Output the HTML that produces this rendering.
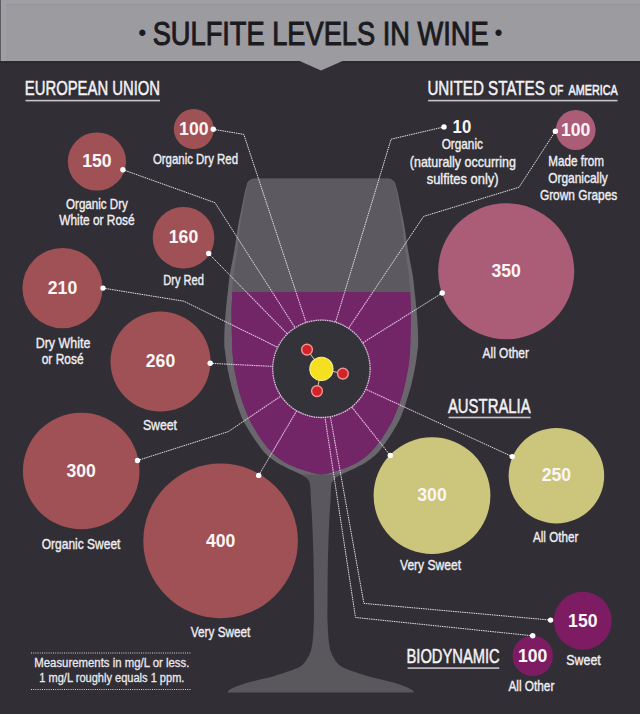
<!DOCTYPE html>
<html><head><meta charset="utf-8"><title>Sulfite Levels in Wine</title>
<style>
html,body{margin:0;padding:0;background:#312f35;}
body{width:640px;height:714px;overflow:hidden;}
svg{display:block;font-family:"Liberation Sans",sans-serif;}
</style></head><body>
<svg width="640" height="714" viewBox="0 0 640 714">
<rect x="0" y="0" width="640" height="714" fill="#312f35"/>
<rect x="0" y="0" width="640" height="61.3" fill="#9c9ba0"/>
<rect x="0" y="0" width="640" height="4.3" fill="#a09fa4"/>
<rect x="0" y="4.3" width="640" height="0.9" fill="#929196"/>
<rect x="0" y="0" width="6" height="61.3" fill="#a09fa4"/>
<rect x="0" y="0" width="0.9" height="61.3" fill="#55535a"/>
<rect x="0" y="61.2" width="640" height="1.2" fill="#232126"/>
<path d="M299.6,61 L342.6,61 L321,70.6Z" fill="#9c9ba0"/>
<path d="M253.9,178.6 L253.0,178.7 L252.1,178.9 L251.2,179.2 L250.4,179.7 L249.6,180.2 L248.8,180.9 L248.2,181.6 L247.6,182.4 L247.2,183.2 L246.9,184.1 L246.7,185.3 L246.4,186.5 L246.0,187.6 L245.6,188.8 L245.3,190.0 L245.1,191.0 L244.8,192.0 L244.6,193.0 L244.4,194.0 L244.2,195.0 L244.0,196.0 L243.8,197.0 L243.6,198.0 L243.4,199.0 L243.2,200.0 L243.0,201.0 L242.8,202.0 L242.6,203.0 L242.4,204.0 L242.2,205.0 L242.0,206.0 L241.8,207.0 L241.6,208.0 L241.4,209.0 L241.2,210.0 L241.0,211.0 L240.8,212.0 L240.6,213.0 L240.4,214.0 L240.2,215.0 L240.0,216.0 L239.7,217.0 L239.5,218.0 L239.3,219.0 L239.1,220.0 L238.9,221.0 L238.7,222.0 L238.6,223.0 L238.4,224.0 L238.2,225.0 L238.0,226.0 L237.9,227.0 L237.7,228.0 L237.5,229.0 L237.4,230.0 L237.2,231.0 L237.1,232.0 L236.9,233.0 L236.8,234.0 L236.6,235.0 L236.5,236.0 L236.4,237.0 L236.2,238.0 L236.1,239.0 L235.9,240.0 L235.8,241.0 L235.6,242.0 L235.5,243.0 L235.3,244.0 L235.2,245.0 L235.0,246.0 L234.9,247.0 L234.7,248.0 L234.6,249.0 L234.4,250.0 L234.2,251.0 L234.1,252.0 L233.9,253.0 L233.7,254.0 L233.5,255.0 L233.3,256.0 L233.1,257.0 L232.9,258.0 L232.8,259.0 L232.6,260.0 L232.4,261.0 L232.2,262.0 L232.0,263.0 L231.8,264.0 L231.6,265.0 L231.4,266.0 L231.2,267.0 L231.0,268.0 L230.8,269.0 L230.6,270.0 L230.4,271.0 L230.2,272.0 L230.0,273.0 L229.9,274.0 L229.7,275.0 L229.6,276.0 L229.4,277.0 L229.3,278.0 L229.2,279.0 L229.1,280.0 L228.9,281.0 L228.8,282.0 L228.7,283.0 L228.6,284.0 L228.5,285.0 L228.4,286.0 L228.3,287.0 L228.2,288.0 L228.1,289.0 L228.0,290.0 L227.9,291.0 L227.8,292.0 L227.7,293.0 L227.6,294.0 L227.4,295.0 L227.3,296.0 L227.2,297.0 L227.1,298.0 L227.0,299.0 L226.9,300.0 L226.8,301.0 L226.7,302.0 L226.6,303.0 L226.5,304.0 L226.4,305.0 L226.3,306.0 L226.2,307.0 L226.1,308.0 L226.0,309.0 L225.9,310.0 L225.8,311.0 L225.7,312.0 L225.6,313.0 L225.6,314.0 L225.5,315.0 L225.4,316.0 L225.3,317.0 L225.2,318.0 L225.2,319.0 L225.1,320.0 L225.0,321.0 L225.0,322.0 L224.9,323.0 L224.8,324.0 L224.8,325.0 L224.7,326.0 L224.7,327.0 L224.6,328.0 L224.5,329.0 L224.5,330.0 L224.5,331.0 L224.4,332.0 L224.4,333.0 L224.3,334.0 L224.3,335.0 L224.3,336.0 L224.3,337.0 L224.3,338.0 L224.2,339.0 L224.2,340.0 L224.2,341.0 L224.2,342.0 L224.3,343.0 L224.3,344.0 L224.3,345.0 L224.3,346.0 L224.4,347.0 L224.5,348.0 L224.7,349.0 L224.8,350.0 L225.0,351.0 L225.1,352.0 L225.2,353.0 L225.4,354.0 L225.5,355.0 L225.6,356.0 L225.7,357.0 L225.9,358.0 L226.0,359.0 L226.1,360.0 L226.3,361.0 L226.4,362.0 L226.6,363.0 L226.7,364.0 L226.9,365.0 L227.1,366.0 L227.3,367.0 L227.4,368.0 L227.6,369.0 L227.8,370.0 L228.0,371.0 L228.3,372.0 L228.5,373.0 L228.7,374.0 L228.9,375.0 L229.1,376.0 L229.3,377.0 L229.5,378.0 L229.8,379.0 L230.0,380.0 L230.2,381.0 L230.4,382.0 L230.7,383.0 L230.9,384.0 L231.1,385.0 L231.4,386.0 L231.7,387.0 L231.9,388.0 L232.2,389.0 L232.5,390.0 L232.8,391.0 L233.1,392.0 L233.5,393.0 L233.8,394.0 L234.1,395.0 L234.4,396.0 L234.7,397.0 L235.0,398.0 L235.3,399.0 L235.6,400.0 L235.9,401.0 L236.2,402.0 L236.5,403.0 L236.8,404.0 L237.2,405.0 L237.5,406.0 L237.8,407.0 L238.2,408.0 L238.6,409.0 L238.9,410.0 L239.3,411.0 L239.7,412.0 L240.0,413.0 L240.4,414.0 L240.8,415.0 L241.2,416.0 L241.6,417.0 L242.1,418.0 L242.5,419.0 L243.0,420.0 L243.5,421.0 L244.0,422.0 L244.5,423.0 L245.1,424.0 L245.6,425.0 L246.2,426.0 L246.8,427.0 L247.4,428.0 L248.0,429.0 L248.6,430.0 L249.2,431.0 L249.8,432.0 L250.4,433.0 L251.1,434.0 L251.7,435.0 L252.3,436.0 L253.0,437.0 L253.6,438.0 L254.3,439.0 L255.0,440.0 L255.7,441.0 L256.4,442.0 L257.2,443.0 L257.9,444.1 L258.7,445.1 L259.4,446.2 L260.2,447.2 L261.0,448.3 L261.8,449.3 L262.7,450.4 L263.5,451.4 L264.4,452.5 L265.4,453.5 L266.5,454.6 L267.7,455.7 L269.0,456.8 L270.3,457.8 L271.8,458.9 L273.2,460.0 L274.7,461.1 L276.3,462.2 L278.1,463.3 L280.0,464.4 L282.1,465.5 L284.3,466.6 L286.5,467.8 L288.9,468.9 L291.2,470.0 L293.7,471.1 L296.3,472.2 L298.9,473.4 L301.3,474.5 L303.5,475.6 L305.3,476.7 L306.8,477.8 L308.0,478.9 L308.9,480.0 L309.5,481.0 L310.0,482.0 L332.4,482.0 L332.9,481.0 L333.5,480.0 L334.4,478.9 L335.6,477.8 L337.1,476.7 L338.9,475.6 L341.1,474.5 L343.5,473.4 L346.1,472.2 L348.7,471.1 L351.2,470.0 L353.5,468.9 L355.9,467.8 L358.1,466.6 L360.3,465.5 L362.4,464.4 L364.3,463.3 L366.1,462.2 L367.7,461.1 L369.2,460.0 L370.6,458.9 L372.1,457.8 L373.4,456.8 L374.7,455.7 L375.9,454.6 L377.0,453.5 L378.0,452.5 L378.9,451.4 L379.7,450.4 L380.6,449.3 L381.4,448.3 L382.2,447.2 L383.0,446.2 L383.7,445.1 L384.5,444.1 L385.2,443.0 L386.0,442.0 L386.7,441.0 L387.4,440.0 L388.1,439.0 L388.8,438.0 L389.4,437.0 L390.1,436.0 L390.7,435.0 L391.3,434.0 L392.0,433.0 L392.6,432.0 L393.2,431.0 L393.8,430.0 L394.4,429.0 L395.0,428.0 L395.6,427.0 L396.2,426.0 L396.8,425.0 L397.3,424.0 L397.9,423.0 L398.4,422.0 L398.9,421.0 L399.4,420.0 L399.9,419.0 L400.3,418.0 L400.8,417.0 L401.2,416.0 L401.6,415.0 L402.0,414.0 L402.4,413.0 L402.7,412.0 L403.1,411.0 L403.5,410.0 L403.8,409.0 L404.2,408.0 L404.6,407.0 L404.9,406.0 L405.2,405.0 L405.6,404.0 L405.9,403.0 L406.2,402.0 L406.5,401.0 L406.8,400.0 L407.1,399.0 L407.4,398.0 L407.7,397.0 L408.0,396.0 L408.3,395.0 L408.6,394.0 L408.9,393.0 L409.3,392.0 L409.6,391.0 L409.9,390.0 L410.2,389.0 L410.5,388.0 L410.7,387.0 L411.0,386.0 L411.3,385.0 L411.5,384.0 L411.7,383.0 L412.0,382.0 L412.2,381.0 L412.4,380.0 L412.6,379.0 L412.9,378.0 L413.1,377.0 L413.3,376.0 L413.5,375.0 L413.7,374.0 L413.9,373.0 L414.1,372.0 L414.4,371.0 L414.6,370.0 L414.8,369.0 L415.0,368.0 L415.1,367.0 L415.3,366.0 L415.5,365.0 L415.7,364.0 L415.8,363.0 L416.0,362.0 L416.1,361.0 L416.3,360.0 L416.4,359.0 L416.5,358.0 L416.7,357.0 L416.8,356.0 L416.9,355.0 L417.0,354.0 L417.2,353.0 L417.3,352.0 L417.4,351.0 L417.6,350.0 L417.7,349.0 L417.9,348.0 L418.0,347.0 L418.1,346.0 L418.1,345.0 L418.1,344.0 L418.1,343.0 L418.2,342.0 L418.2,341.0 L418.2,340.0 L418.2,339.0 L418.1,338.0 L418.1,337.0 L418.1,336.0 L418.1,335.0 L418.1,334.0 L418.0,333.0 L418.0,332.0 L417.9,331.0 L417.9,330.0 L417.9,329.0 L417.8,328.0 L417.7,327.0 L417.7,326.0 L417.6,325.0 L417.6,324.0 L417.5,323.0 L417.4,322.0 L417.4,321.0 L417.3,320.0 L417.2,319.0 L417.2,318.0 L417.1,317.0 L417.0,316.0 L416.9,315.0 L416.8,314.0 L416.8,313.0 L416.7,312.0 L416.6,311.0 L416.5,310.0 L416.4,309.0 L416.3,308.0 L416.2,307.0 L416.1,306.0 L416.0,305.0 L415.9,304.0 L415.8,303.0 L415.7,302.0 L415.6,301.0 L415.5,300.0 L415.4,299.0 L415.3,298.0 L415.2,297.0 L415.1,296.0 L415.0,295.0 L414.8,294.0 L414.7,293.0 L414.6,292.0 L414.5,291.0 L414.4,290.0 L414.3,289.0 L414.2,288.0 L414.1,287.0 L414.0,286.0 L413.9,285.0 L413.8,284.0 L413.7,283.0 L413.6,282.0 L413.5,281.0 L413.3,280.0 L413.2,279.0 L413.1,278.0 L413.0,277.0 L412.8,276.0 L412.7,275.0 L412.5,274.0 L412.4,273.0 L412.2,272.0 L412.0,271.0 L411.8,270.0 L411.6,269.0 L411.4,268.0 L411.2,267.0 L411.0,266.0 L410.8,265.0 L410.6,264.0 L410.4,263.0 L410.2,262.0 L410.0,261.0 L409.8,260.0 L409.6,259.0 L409.5,258.0 L409.3,257.0 L409.1,256.0 L408.9,255.0 L408.7,254.0 L408.5,253.0 L408.3,252.0 L408.2,251.0 L408.0,250.0 L407.8,249.0 L407.7,248.0 L407.5,247.0 L407.4,246.0 L407.2,245.0 L407.1,244.0 L406.9,243.0 L406.8,242.0 L406.6,241.0 L406.5,240.0 L406.3,239.0 L406.2,238.0 L406.0,237.0 L405.9,236.0 L405.8,235.0 L405.6,234.0 L405.5,233.0 L405.3,232.0 L405.2,231.0 L405.0,230.0 L404.9,229.0 L404.7,228.0 L404.5,227.0 L404.4,226.0 L404.2,225.0 L404.0,224.0 L403.8,223.0 L403.7,222.0 L403.5,221.0 L403.3,220.0 L403.1,219.0 L402.9,218.0 L402.7,217.0 L402.4,216.0 L402.2,215.0 L402.0,214.0 L401.8,213.0 L401.6,212.0 L401.4,211.0 L401.2,210.0 L401.0,209.0 L400.8,208.0 L400.6,207.0 L400.4,206.0 L400.2,205.0 L400.0,204.0 L399.8,203.0 L399.6,202.0 L399.4,201.0 L399.2,200.0 L399.0,199.0 L398.8,198.0 L398.6,197.0 L398.4,196.0 L398.2,195.0 L398.0,194.0 L397.8,193.0 L397.6,192.0 L397.3,191.0 L397.1,190.0 L396.8,188.8 L396.4,187.6 L396.0,186.5 L395.7,185.3 L395.5,184.1 L395.2,183.2 L394.8,182.4 L394.2,181.6 L393.6,180.9 L392.8,180.2 L392.0,179.7 L391.2,179.2 L390.3,178.9 L389.4,178.7 L388.5,178.6Z" fill="#69676d"/>
<path d="M300.8,474.5 L303.0,475.6 L304.8,476.7 L306.3,477.8 L307.5,478.9 L308.4,480.0 L309.0,481.0 L309.5,482.0 L309.8,483.0 L310.0,484.0 L310.1,485.0 L310.2,486.0 L310.3,487.0 L310.4,488.0 L310.5,489.0 L310.5,490.0 L310.6,491.0 L310.6,492.0 L310.6,493.0 L310.7,494.0 L310.7,495.0 L310.7,496.0 L310.8,497.0 L310.8,498.0 L310.8,499.0 L310.9,500.0 L311.0,501.0 L311.0,502.0 L311.1,503.0 L311.1,504.0 L311.2,505.0 L311.3,506.0 L311.3,507.0 L311.4,508.0 L311.5,509.0 L311.5,510.0 L311.6,511.0 L311.7,512.0 L311.7,513.0 L311.8,514.0 L311.8,515.0 L311.9,516.0 L312.0,517.0 L312.0,518.0 L312.1,519.0 L312.1,520.0 L312.1,521.0 L312.2,522.0 L312.2,523.0 L312.3,524.0 L312.3,525.0 L312.4,526.0 L312.4,527.0 L312.4,528.0 L312.5,529.0 L312.5,530.0 L312.6,531.0 L312.6,532.0 L312.6,533.0 L312.7,534.0 L312.7,535.0 L312.8,536.0 L312.8,537.0 L312.8,538.0 L312.9,539.0 L312.9,540.0 L312.9,541.0 L313.0,542.0 L313.0,543.0 L313.0,544.0 L313.1,545.0 L313.1,546.0 L313.1,547.0 L313.2,548.0 L313.2,549.0 L313.2,550.0 L313.3,551.0 L313.3,552.0 L313.3,553.0 L313.4,554.0 L313.4,555.0 L313.4,556.0 L313.4,557.0 L313.5,558.0 L313.5,559.0 L313.5,560.0 L313.5,561.0 L313.5,562.0 L313.6,563.0 L313.6,564.0 L313.6,565.0 L313.6,566.0 L313.6,567.0 L313.6,568.0 L313.7,569.0 L313.7,570.0 L313.7,571.0 L313.7,572.0 L313.7,573.0 L313.7,574.0 L313.7,575.0 L313.7,576.0 L313.8,577.0 L313.8,578.0 L313.8,579.0 L313.8,580.0 L313.8,581.0 L313.8,582.0 L313.8,583.0 L313.8,584.0 L313.8,585.0 L313.8,586.0 L313.8,587.0 L313.8,588.0 L313.8,589.0 L313.8,590.0 L313.8,591.0 L313.9,592.0 L313.9,593.0 L313.9,594.0 L313.9,595.0 L313.9,596.0 L313.9,597.0 L313.9,598.0 L313.9,599.0 L313.9,600.0 L313.9,601.0 L313.9,602.0 L313.9,603.0 L313.9,604.0 L314.0,605.0 L314.0,606.0 L314.0,607.0 L314.0,608.0 L314.0,609.0 L314.0,610.0 L314.0,611.0 L314.0,612.0 L314.0,613.0 L314.0,614.0 L314.0,615.0 L314.0,616.0 L314.0,617.0 L314.0,618.0 L313.9,619.0 L313.9,620.0 L313.9,621.0 L313.8,622.0 L313.8,623.0 L313.7,624.0 L313.7,625.0 L313.7,626.0 L313.6,627.0 L313.6,628.0 L313.6,629.0 L313.5,630.0 L313.5,631.0 L313.4,632.0 L313.3,633.0 L313.3,634.0 L313.2,635.0 L313.1,636.0 L313.1,637.0 L313.0,638.0 L312.9,639.0 L312.8,640.0 L312.7,641.0 L312.5,642.0 L312.4,643.0 L312.3,644.0 L312.1,645.0 L311.9,646.0 L311.7,647.1 L311.5,648.1 L311.3,649.2 L311.0,650.2 L310.7,651.2 L310.3,652.3 L309.9,653.3 L309.5,654.4 L309.0,655.4 L308.5,656.5 L307.9,657.5 L307.3,658.6 L306.7,659.6 L306.0,660.7 L305.2,661.7 L304.4,662.8 L303.4,663.8 L302.2,664.9 L300.9,665.9 L299.3,667.0 L297.3,668.1 L294.8,669.1 L291.9,670.2 L288.8,671.3 L285.6,672.3 L282.4,673.4 L278.8,674.5 L275.0,675.7 L271.0,676.9 L266.7,678.0 L262.1,679.1 L257.2,680.2 L252.3,681.4 L248.0,682.5 L244.7,683.5 L241.8,684.5 L239.0,685.5 L236.4,686.5 L234.0,687.5 L231.8,688.5 L230.1,689.5 L228.7,690.5 L227.9,691.5 L227.7,692.5 L413.7,692.5 L413.5,691.5 L412.7,690.5 L411.3,689.5 L409.6,688.5 L407.4,687.5 L405.0,686.5 L402.4,685.5 L399.6,684.5 L396.7,683.5 L393.4,682.5 L389.1,681.4 L384.2,680.2 L379.3,679.1 L374.7,678.0 L370.4,676.9 L366.4,675.7 L362.6,674.5 L359.0,673.4 L355.8,672.3 L352.6,671.3 L349.5,670.2 L346.6,669.1 L344.1,668.1 L342.1,667.0 L340.5,665.9 L339.2,664.9 L338.0,663.8 L337.0,662.8 L336.2,661.7 L335.4,660.7 L334.7,659.6 L334.1,658.6 L333.5,657.5 L332.9,656.5 L332.4,655.4 L331.9,654.4 L331.5,653.3 L331.1,652.3 L330.7,651.2 L330.4,650.2 L330.1,649.2 L329.9,648.1 L329.7,647.1 L329.5,646.0 L329.3,645.0 L329.1,644.0 L329.0,643.0 L328.9,642.0 L328.7,641.0 L328.6,640.0 L328.5,639.0 L328.4,638.0 L328.3,637.0 L328.3,636.0 L328.2,635.0 L328.1,634.0 L328.1,633.0 L328.0,632.0 L327.9,631.0 L327.9,630.0 L327.8,629.0 L327.8,628.0 L327.8,627.0 L327.7,626.0 L327.7,625.0 L327.7,624.0 L327.6,623.0 L327.6,622.0 L327.5,621.0 L327.5,620.0 L327.5,619.0 L327.4,618.0 L327.4,617.0 L327.4,616.0 L327.4,615.0 L327.4,614.0 L327.4,613.0 L327.4,612.0 L327.4,611.0 L327.4,610.0 L327.4,609.0 L327.4,608.0 L327.4,607.0 L327.4,606.0 L327.4,605.0 L327.5,604.0 L327.5,603.0 L327.5,602.0 L327.5,601.0 L327.5,600.0 L327.5,599.0 L327.5,598.0 L327.5,597.0 L327.5,596.0 L327.5,595.0 L327.5,594.0 L327.5,593.0 L327.5,592.0 L327.6,591.0 L327.6,590.0 L327.6,589.0 L327.6,588.0 L327.6,587.0 L327.6,586.0 L327.6,585.0 L327.6,584.0 L327.6,583.0 L327.6,582.0 L327.6,581.0 L327.6,580.0 L327.6,579.0 L327.6,578.0 L327.6,577.0 L327.7,576.0 L327.7,575.0 L327.7,574.0 L327.7,573.0 L327.7,572.0 L327.7,571.0 L327.7,570.0 L327.7,569.0 L327.8,568.0 L327.8,567.0 L327.8,566.0 L327.8,565.0 L327.8,564.0 L327.8,563.0 L327.9,562.0 L327.9,561.0 L327.9,560.0 L327.9,559.0 L327.9,558.0 L328.0,557.0 L328.0,556.0 L328.0,555.0 L328.0,554.0 L328.1,553.0 L328.1,552.0 L328.1,551.0 L328.2,550.0 L328.2,549.0 L328.2,548.0 L328.3,547.0 L328.3,546.0 L328.3,545.0 L328.4,544.0 L328.4,543.0 L328.4,542.0 L328.5,541.0 L328.5,540.0 L328.5,539.0 L328.6,538.0 L328.6,537.0 L328.6,536.0 L328.7,535.0 L328.7,534.0 L328.8,533.0 L328.8,532.0 L328.8,531.0 L328.9,530.0 L328.9,529.0 L329.0,528.0 L329.0,527.0 L329.0,526.0 L329.1,525.0 L329.1,524.0 L329.2,523.0 L329.2,522.0 L329.3,521.0 L329.3,520.0 L329.3,519.0 L329.4,518.0 L329.4,517.0 L329.5,516.0 L329.6,515.0 L329.6,514.0 L329.7,513.0 L329.7,512.0 L329.8,511.0 L329.9,510.0 L329.9,509.0 L330.0,508.0 L330.1,507.0 L330.1,506.0 L330.2,505.0 L330.3,504.0 L330.3,503.0 L330.4,502.0 L330.4,501.0 L330.5,500.0 L330.6,499.0 L330.6,498.0 L330.6,497.0 L330.7,496.0 L330.7,495.0 L330.7,494.0 L330.8,493.0 L330.8,492.0 L330.8,491.0 L330.9,490.0 L330.9,489.0 L331.0,488.0 L331.1,487.0 L331.2,486.0 L331.3,485.0 L331.4,484.0 L331.6,483.0 L331.9,482.0 L332.4,481.0 L333.0,480.0 L333.9,478.9 L335.1,477.8 L336.6,476.7 L338.4,475.6 L340.6,474.5Z" fill="#5a585d"/>
<path d="M255.9,178.9 L251.9,179.2 L251.0,179.7 L250.2,180.2 L249.5,180.9 L248.9,181.6 L248.4,182.4 L248.0,183.2 L247.7,184.1 L247.5,185.3 L247.2,186.5 L246.9,187.6 L246.5,188.8 L246.3,190.0 L246.1,191.0 L245.9,192.0 L245.7,193.0 L245.5,194.0 L245.3,195.0 L245.1,196.0 L245.0,197.0 L244.8,198.0 L244.6,199.0 L244.5,200.0 L244.3,201.0 L244.1,202.0 L243.9,203.0 L243.8,204.0 L243.6,205.0 L243.4,206.0 L243.3,207.0 L243.1,208.0 L242.9,209.0 L242.8,210.0 L242.6,211.0 L242.4,212.0 L242.2,213.0 L242.0,214.0 L241.9,215.0 L241.7,216.0 L241.5,217.0 L241.3,218.0 L241.2,219.0 L241.0,220.0 L240.8,221.0 L240.7,222.0 L240.5,223.0 L240.3,224.0 L240.2,225.0 L240.1,226.0 L239.9,227.0 L239.8,228.0 L239.7,229.0 L239.6,230.0 L239.4,231.0 L239.3,232.0 L239.2,233.0 L239.1,234.0 L239.0,235.0 L238.9,236.0 L238.8,237.0 L238.7,238.0 L238.6,239.0 L238.4,240.0 L238.3,241.0 L238.2,242.0 L238.1,243.0 L238.0,244.0 L237.9,245.0 L237.8,246.0 L237.7,247.0 L237.5,248.0 L237.4,249.0 L237.3,250.0 L237.1,251.0 L237.0,252.0 L236.9,253.0 L236.7,254.0 L236.6,255.0 L236.4,256.0 L236.3,257.0 L236.1,258.0 L235.9,259.0 L235.8,260.0 L235.6,261.0 L235.5,262.0 L235.3,263.0 L235.2,264.0 L235.0,265.0 L234.8,266.0 L234.7,267.0 L234.5,268.0 L234.3,269.0 L234.2,270.0 L234.0,271.0 L233.9,272.0 L233.7,273.0 L233.6,274.0 L233.5,275.0 L233.4,276.0 L233.3,277.0 L233.2,278.0 L233.1,279.0 L233.0,280.0 L232.9,281.0 L232.9,282.0 L232.8,283.0 L232.7,284.0 L232.7,285.0 L232.6,286.0 L232.5,287.0 L232.5,288.0 L232.4,289.0 L232.3,290.0 L232.3,291.0 L232.2,292.0 L232.1,293.0 L410.3,293.0 L410.2,292.0 L410.1,291.0 L410.1,290.0 L410.0,289.0 L409.9,288.0 L409.9,287.0 L409.8,286.0 L409.7,285.0 L409.7,284.0 L409.6,283.0 L409.5,282.0 L409.5,281.0 L409.4,280.0 L409.3,279.0 L409.2,278.0 L409.1,277.0 L409.0,276.0 L408.9,275.0 L408.8,274.0 L408.7,273.0 L408.5,272.0 L408.4,271.0 L408.2,270.0 L408.1,269.0 L407.9,268.0 L407.7,267.0 L407.6,266.0 L407.4,265.0 L407.2,264.0 L407.1,263.0 L406.9,262.0 L406.8,261.0 L406.6,260.0 L406.5,259.0 L406.3,258.0 L406.1,257.0 L406.0,256.0 L405.8,255.0 L405.7,254.0 L405.5,253.0 L405.4,252.0 L405.3,251.0 L405.1,250.0 L405.0,249.0 L404.9,248.0 L404.7,247.0 L404.6,246.0 L404.5,245.0 L404.4,244.0 L404.3,243.0 L404.2,242.0 L404.1,241.0 L404.0,240.0 L403.8,239.0 L403.7,238.0 L403.6,237.0 L403.5,236.0 L403.4,235.0 L403.3,234.0 L403.2,233.0 L403.1,232.0 L403.0,231.0 L402.8,230.0 L402.7,229.0 L402.6,228.0 L402.5,227.0 L402.3,226.0 L402.2,225.0 L402.1,224.0 L401.9,223.0 L401.7,222.0 L401.6,221.0 L401.4,220.0 L401.2,219.0 L401.1,218.0 L400.9,217.0 L400.7,216.0 L400.5,215.0 L400.4,214.0 L400.2,213.0 L400.0,212.0 L399.8,211.0 L399.6,210.0 L399.5,209.0 L399.3,208.0 L399.1,207.0 L399.0,206.0 L398.8,205.0 L398.6,204.0 L398.5,203.0 L398.3,202.0 L398.1,201.0 L397.9,200.0 L397.8,199.0 L397.6,198.0 L397.4,197.0 L397.3,196.0 L397.1,195.0 L396.9,194.0 L396.7,193.0 L396.5,192.0 L396.3,191.0 L396.1,190.0 L395.9,188.8 L395.5,187.6 L395.2,186.5 L394.9,185.3 L394.7,184.1 L394.4,183.2 L394.0,182.4 L393.5,181.6 L392.9,180.9 L392.2,180.2 L391.4,179.7 L390.5,179.2 L386.5,178.9Z" fill="#5c5a60"/>
<path d="M232.2,292.2 L232.2,293.2 L232.2,294.3 L232.1,295.3 L232.1,296.4 L232.0,297.4 L232.0,298.5 L232.0,299.5 L231.9,300.6 L231.9,301.6 L231.8,302.7 L231.8,303.7 L231.7,304.8 L231.7,305.8 L231.7,306.9 L231.6,307.9 L231.6,309.0 L231.6,310.0 L231.6,311.0 L231.6,312.0 L231.6,313.0 L231.6,314.0 L231.6,315.0 L231.6,316.0 L231.6,317.0 L231.6,318.0 L231.6,319.0 L231.6,320.0 L231.6,321.0 L231.6,322.0 L231.7,323.0 L231.7,324.0 L231.7,325.0 L231.7,326.0 L231.7,327.0 L231.8,328.0 L231.8,329.0 L231.8,330.0 L231.8,331.0 L231.8,332.0 L231.9,333.0 L231.9,334.0 L231.9,335.0 L231.9,336.0 L232.0,337.0 L232.0,338.0 L232.0,339.0 L232.0,340.0 L232.1,341.0 L232.1,342.0 L232.1,343.0 L232.1,344.0 L232.2,345.0 L232.2,346.0 L232.3,347.0 L232.3,348.0 L232.3,349.0 L232.4,350.0 L232.4,351.0 L232.5,352.0 L232.6,353.0 L232.6,354.0 L232.7,355.0 L232.8,356.0 L232.9,357.0 L233.0,358.0 L233.1,359.0 L233.2,360.0 L233.3,361.0 L233.4,362.0 L233.5,363.0 L233.7,364.0 L233.8,365.0 L233.9,366.0 L234.1,367.0 L234.3,368.0 L234.4,369.0 L234.6,370.0 L234.8,371.0 L235.0,372.0 L235.2,373.0 L235.4,374.0 L235.6,375.0 L235.8,376.0 L236.0,377.0 L236.2,378.0 L236.4,379.0 L236.6,380.0 L236.8,381.0 L237.0,382.0 L237.2,383.0 L237.4,384.0 L237.7,385.0 L237.9,386.0 L238.1,387.0 L238.4,388.0 L238.6,389.0 L238.9,390.0 L239.1,391.0 L239.4,392.0 L239.6,393.0 L239.9,394.0 L240.2,395.0 L240.5,396.0 L240.8,397.0 L241.1,398.0 L241.4,399.0 L241.8,400.0 L242.1,401.0 L242.5,402.0 L242.8,403.0 L243.2,404.0 L243.6,405.0 L243.9,406.0 L244.3,407.0 L244.7,408.0 L245.1,409.0 L245.5,410.0 L245.9,411.0 L246.3,412.0 L246.6,413.0 L247.1,414.0 L247.5,415.0 L247.9,416.0 L248.3,417.0 L248.8,418.0 L249.2,419.0 L249.7,420.0 L250.2,421.0 L250.7,422.0 L251.2,423.0 L251.8,424.0 L252.3,425.0 L252.9,426.0 L253.5,427.0 L254.1,428.0 L254.7,429.0 L255.3,430.0 L255.9,431.0 L256.5,432.0 L257.1,433.0 L257.7,434.0 L258.4,435.0 L259.0,436.0 L259.7,437.0 L260.3,438.0 L261.0,439.0 L261.7,440.0 L262.4,441.0 L263.2,442.0 L264.0,443.0 L264.8,444.1 L265.7,445.1 L266.5,446.2 L267.4,447.2 L268.3,448.3 L269.2,449.3 L270.2,450.4 L271.2,451.4 L272.2,452.5 L273.2,453.5 L274.3,454.6 L275.5,455.7 L276.8,456.8 L278.2,457.8 L279.7,458.9 L281.2,460.0 L282.9,461.1 L284.7,462.2 L286.8,463.3 L288.9,464.4 L291.4,465.6 L294.2,466.8 L297.2,468.0 L300.2,469.0 L303.5,470.0 L306.5,471.0 L309.7,472.0 L312.2,472.8 L315.2,473.5 L318.4,474.0 L321.2,474.5 L321.2,474.5 L324.0,474.0 L327.2,473.5 L330.2,472.8 L332.7,472.0 L335.9,471.0 L338.9,470.0 L342.2,469.0 L345.2,468.0 L348.2,466.8 L351.0,465.6 L353.5,464.4 L355.6,463.3 L357.7,462.2 L359.5,461.1 L361.2,460.0 L362.7,458.9 L364.2,457.8 L365.6,456.8 L366.9,455.7 L368.1,454.6 L369.2,453.5 L370.2,452.5 L371.2,451.4 L372.2,450.4 L373.2,449.3 L374.1,448.3 L375.0,447.2 L375.9,446.2 L376.7,445.1 L377.6,444.1 L378.4,443.0 L379.2,442.0 L380.0,441.0 L380.7,440.0 L381.4,439.0 L382.1,438.0 L382.7,437.0 L383.4,436.0 L384.0,435.0 L384.7,434.0 L385.3,433.0 L385.9,432.0 L386.5,431.0 L387.1,430.0 L387.7,429.0 L388.3,428.0 L388.9,427.0 L389.5,426.0 L390.1,425.0 L390.6,424.0 L391.2,423.0 L391.7,422.0 L392.2,421.0 L392.7,420.0 L393.2,419.0 L393.6,418.0 L394.1,417.0 L394.5,416.0 L394.9,415.0 L395.3,414.0 L395.8,413.0 L396.1,412.0 L396.5,411.0 L396.9,410.0 L397.3,409.0 L397.7,408.0 L398.1,407.0 L398.5,406.0 L398.8,405.0 L399.2,404.0 L399.6,403.0 L399.9,402.0 L400.3,401.0 L400.6,400.0 L401.0,399.0 L401.3,398.0 L401.6,397.0 L401.9,396.0 L402.2,395.0 L402.5,394.0 L402.8,393.0 L403.0,392.0 L403.3,391.0 L403.5,390.0 L403.8,389.0 L404.0,388.0 L404.3,387.0 L404.5,386.0 L404.7,385.0 L405.0,384.0 L405.2,383.0 L405.4,382.0 L405.6,381.0 L405.8,380.0 L406.0,379.0 L406.2,378.0 L406.4,377.0 L406.6,376.0 L406.8,375.0 L407.0,374.0 L407.2,373.0 L407.4,372.0 L407.6,371.0 L407.8,370.0 L408.0,369.0 L408.1,368.0 L408.3,367.0 L408.5,366.0 L408.6,365.0 L408.7,364.0 L408.9,363.0 L409.0,362.0 L409.1,361.0 L409.2,360.0 L409.3,359.0 L409.4,358.0 L409.5,357.0 L409.6,356.0 L409.7,355.0 L409.8,354.0 L409.8,353.0 L409.9,352.0 L410.0,351.0 L410.0,350.0 L410.1,349.0 L410.1,348.0 L410.1,347.0 L410.2,346.0 L410.2,345.0 L410.3,344.0 L410.3,343.0 L410.3,342.0 L410.3,341.0 L410.4,340.0 L410.4,339.0 L410.4,338.0 L410.4,337.0 L410.5,336.0 L410.5,335.0 L410.5,334.0 L410.5,333.0 L410.6,332.0 L410.6,331.0 L410.6,330.0 L410.6,329.0 L410.6,328.0 L410.7,327.0 L410.7,326.0 L410.7,325.0 L410.7,324.0 L410.7,323.0 L410.8,322.0 L410.8,321.0 L410.8,320.0 L410.8,319.0 L410.8,318.0 L410.8,317.0 L410.8,316.0 L410.8,315.0 L410.8,314.0 L410.8,313.0 L410.8,312.0 L410.8,311.0 L410.8,310.0 L410.8,309.0 L410.8,307.9 L410.7,306.9 L410.7,305.8 L410.7,304.8 L410.6,303.7 L410.6,302.7 L410.5,301.6 L410.5,300.6 L410.4,299.5 L410.4,298.5 L410.4,297.4 L410.3,296.4 L410.3,295.3 L410.2,294.3 L410.2,293.2 L410.2,292.2Z" fill="#722567"/>
<circle cx="193.8" cy="129.1" r="20.0" fill="#a05155"/>
<circle cx="96.9" cy="161.5" r="29.1" fill="#a05155"/>
<circle cx="183.5" cy="237.7" r="30.8" fill="#a05155"/>
<circle cx="62.5" cy="288.1" r="40.1" fill="#a05155"/>
<circle cx="160.5" cy="361.6" r="50.0" fill="#a05155"/>
<circle cx="81.2" cy="471.0" r="58.3" fill="#a05155"/>
<circle cx="220.6" cy="540.9" r="77.3" fill="#a05155"/>
<circle cx="575.7" cy="130.0" r="19.9" fill="#ab5d77"/>
<circle cx="506.2" cy="271.2" r="68.0" fill="#ab5d77"/>
<circle cx="432.0" cy="495.6" r="58.4" fill="#cbc67c"/>
<circle cx="556.4" cy="475.7" r="47.8" fill="#cbc67c"/>
<circle cx="582.8" cy="620.8" r="29.0" fill="#7e1c63"/>
<circle cx="532.7" cy="655.9" r="20.2" fill="#7e1c63"/>
<polyline points="213.3,129.3 243.8,134.4 306.1,322.6" fill="none" stroke="#efe6f0" stroke-width="1" stroke-opacity="0.95" stroke-dasharray="1.5 0.8"/>
<circle cx="213.3" cy="129.3" r="2.7" fill="#fff"/>
<polyline points="122.9,169.7 215.0,202.7 295.1,327.8" fill="none" stroke="#efe6f0" stroke-width="1" stroke-opacity="0.95" stroke-dasharray="1.5 0.8"/>
<circle cx="122.9" cy="169.7" r="2.7" fill="#fff"/>
<polyline points="208.7,253.5 287.4,334.0" fill="none" stroke="#efe6f0" stroke-width="1" stroke-opacity="0.95" stroke-dasharray="1.5 0.8"/>
<circle cx="208.7" cy="253.5" r="2.7" fill="#fff"/>
<polyline points="103.0,288.1 183.8,301.2 277.7,347.3" fill="none" stroke="#efe6f0" stroke-width="1" stroke-opacity="0.95" stroke-dasharray="1.5 0.8"/>
<circle cx="103.0" cy="288.1" r="2.7" fill="#fff"/>
<polyline points="210.2,363.3 272.8,366.4" fill="none" stroke="#efe6f0" stroke-width="1" stroke-opacity="0.95" stroke-dasharray="1.5 0.8"/>
<circle cx="210.2" cy="363.3" r="2.7" fill="#fff"/>
<polyline points="137.5,460.5 228.3,431.6 281.0,396.0" fill="none" stroke="#efe6f0" stroke-width="1" stroke-opacity="0.95" stroke-dasharray="1.5 0.8"/>
<circle cx="137.5" cy="460.5" r="2.7" fill="#fff"/>
<polyline points="258.7,475.4 296.7,410.8" fill="none" stroke="#efe6f0" stroke-width="1" stroke-opacity="0.95" stroke-dasharray="1.5 0.8"/>
<circle cx="258.7" cy="475.4" r="2.7" fill="#fff"/>
<polyline points="444.0,126.9 391.1,139.2 335.5,322.2" fill="none" stroke="#efe6f0" stroke-width="1" stroke-opacity="0.95" stroke-dasharray="1.5 0.8"/>
<circle cx="444.0" cy="126.9" r="2.7" fill="#fff"/>
<polyline points="555.4,131.2 519.1,187.2 423.6,216.4 348.5,328.4" fill="none" stroke="#efe6f0" stroke-width="1" stroke-opacity="0.95" stroke-dasharray="1.5 0.8"/>
<circle cx="555.4" cy="131.2" r="2.7" fill="#fff"/>
<polyline points="442.2,293.0 362.7,342.9" fill="none" stroke="#efe6f0" stroke-width="1" stroke-opacity="0.95" stroke-dasharray="1.5 0.8"/>
<circle cx="442.2" cy="293.0" r="2.7" fill="#fff"/>
<polyline points="390.3,455.5 351.7,406.9" fill="none" stroke="#efe6f0" stroke-width="1" stroke-opacity="0.95" stroke-dasharray="1.5 0.8"/>
<circle cx="390.3" cy="455.5" r="2.7" fill="#fff"/>
<polyline points="512.2,456.6 365.6,389.2" fill="none" stroke="#efe6f0" stroke-width="1" stroke-opacity="0.95" stroke-dasharray="1.5 0.8"/>
<circle cx="512.2" cy="456.6" r="2.7" fill="#fff"/>
<polyline points="550.6,620.1 363.9,603.4 330.4,416.9" fill="none" stroke="#efe6f0" stroke-width="1" stroke-opacity="0.95" stroke-dasharray="1.5 0.8"/>
<circle cx="550.6" cy="620.1" r="2.7" fill="#fff"/>
<polyline points="532.7,635.8 355.5,617.5 325.0,417.4" fill="none" stroke="#efe6f0" stroke-width="1" stroke-opacity="0.95" stroke-dasharray="1.5 0.8"/>
<circle cx="532.7" cy="635.8" r="2.7" fill="#fff"/>
<clipPath id="wclip"><path d="M232.2,292.2 L232.2,293.2 L232.2,294.3 L232.1,295.3 L232.1,296.4 L232.0,297.4 L232.0,298.5 L232.0,299.5 L231.9,300.6 L231.9,301.6 L231.8,302.7 L231.8,303.7 L231.7,304.8 L231.7,305.8 L231.7,306.9 L231.6,307.9 L231.6,309.0 L231.6,310.0 L231.6,311.0 L231.6,312.0 L231.6,313.0 L231.6,314.0 L231.6,315.0 L231.6,316.0 L231.6,317.0 L231.6,318.0 L231.6,319.0 L231.6,320.0 L231.6,321.0 L231.6,322.0 L231.7,323.0 L231.7,324.0 L231.7,325.0 L231.7,326.0 L231.7,327.0 L231.8,328.0 L231.8,329.0 L231.8,330.0 L231.8,331.0 L231.8,332.0 L231.9,333.0 L231.9,334.0 L231.9,335.0 L231.9,336.0 L232.0,337.0 L232.0,338.0 L232.0,339.0 L232.0,340.0 L232.1,341.0 L232.1,342.0 L232.1,343.0 L232.1,344.0 L232.2,345.0 L232.2,346.0 L232.3,347.0 L232.3,348.0 L232.3,349.0 L232.4,350.0 L232.4,351.0 L232.5,352.0 L232.6,353.0 L232.6,354.0 L232.7,355.0 L232.8,356.0 L232.9,357.0 L233.0,358.0 L233.1,359.0 L233.2,360.0 L233.3,361.0 L233.4,362.0 L233.5,363.0 L233.7,364.0 L233.8,365.0 L233.9,366.0 L234.1,367.0 L234.3,368.0 L234.4,369.0 L234.6,370.0 L234.8,371.0 L235.0,372.0 L235.2,373.0 L235.4,374.0 L235.6,375.0 L235.8,376.0 L236.0,377.0 L236.2,378.0 L236.4,379.0 L236.6,380.0 L236.8,381.0 L237.0,382.0 L237.2,383.0 L237.4,384.0 L237.7,385.0 L237.9,386.0 L238.1,387.0 L238.4,388.0 L238.6,389.0 L238.9,390.0 L239.1,391.0 L239.4,392.0 L239.6,393.0 L239.9,394.0 L240.2,395.0 L240.5,396.0 L240.8,397.0 L241.1,398.0 L241.4,399.0 L241.8,400.0 L242.1,401.0 L242.5,402.0 L242.8,403.0 L243.2,404.0 L243.6,405.0 L243.9,406.0 L244.3,407.0 L244.7,408.0 L245.1,409.0 L245.5,410.0 L245.9,411.0 L246.3,412.0 L246.6,413.0 L247.1,414.0 L247.5,415.0 L247.9,416.0 L248.3,417.0 L248.8,418.0 L249.2,419.0 L249.7,420.0 L250.2,421.0 L250.7,422.0 L251.2,423.0 L251.8,424.0 L252.3,425.0 L252.9,426.0 L253.5,427.0 L254.1,428.0 L254.7,429.0 L255.3,430.0 L255.9,431.0 L256.5,432.0 L257.1,433.0 L257.7,434.0 L258.4,435.0 L259.0,436.0 L259.7,437.0 L260.3,438.0 L261.0,439.0 L261.7,440.0 L262.4,441.0 L263.2,442.0 L264.0,443.0 L264.8,444.1 L265.7,445.1 L266.5,446.2 L267.4,447.2 L268.3,448.3 L269.2,449.3 L270.2,450.4 L271.2,451.4 L272.2,452.5 L273.2,453.5 L274.3,454.6 L275.5,455.7 L276.8,456.8 L278.2,457.8 L279.7,458.9 L281.2,460.0 L282.9,461.1 L284.7,462.2 L286.8,463.3 L288.9,464.4 L291.4,465.6 L294.2,466.8 L297.2,468.0 L300.2,469.0 L303.5,470.0 L306.5,471.0 L309.7,472.0 L312.2,472.8 L315.2,473.5 L318.4,474.0 L321.2,474.5 L321.2,474.5 L324.0,474.0 L327.2,473.5 L330.2,472.8 L332.7,472.0 L335.9,471.0 L338.9,470.0 L342.2,469.0 L345.2,468.0 L348.2,466.8 L351.0,465.6 L353.5,464.4 L355.6,463.3 L357.7,462.2 L359.5,461.1 L361.2,460.0 L362.7,458.9 L364.2,457.8 L365.6,456.8 L366.9,455.7 L368.1,454.6 L369.2,453.5 L370.2,452.5 L371.2,451.4 L372.2,450.4 L373.2,449.3 L374.1,448.3 L375.0,447.2 L375.9,446.2 L376.7,445.1 L377.6,444.1 L378.4,443.0 L379.2,442.0 L380.0,441.0 L380.7,440.0 L381.4,439.0 L382.1,438.0 L382.7,437.0 L383.4,436.0 L384.0,435.0 L384.7,434.0 L385.3,433.0 L385.9,432.0 L386.5,431.0 L387.1,430.0 L387.7,429.0 L388.3,428.0 L388.9,427.0 L389.5,426.0 L390.1,425.0 L390.6,424.0 L391.2,423.0 L391.7,422.0 L392.2,421.0 L392.7,420.0 L393.2,419.0 L393.6,418.0 L394.1,417.0 L394.5,416.0 L394.9,415.0 L395.3,414.0 L395.8,413.0 L396.1,412.0 L396.5,411.0 L396.9,410.0 L397.3,409.0 L397.7,408.0 L398.1,407.0 L398.5,406.0 L398.8,405.0 L399.2,404.0 L399.6,403.0 L399.9,402.0 L400.3,401.0 L400.6,400.0 L401.0,399.0 L401.3,398.0 L401.6,397.0 L401.9,396.0 L402.2,395.0 L402.5,394.0 L402.8,393.0 L403.0,392.0 L403.3,391.0 L403.5,390.0 L403.8,389.0 L404.0,388.0 L404.3,387.0 L404.5,386.0 L404.7,385.0 L405.0,384.0 L405.2,383.0 L405.4,382.0 L405.6,381.0 L405.8,380.0 L406.0,379.0 L406.2,378.0 L406.4,377.0 L406.6,376.0 L406.8,375.0 L407.0,374.0 L407.2,373.0 L407.4,372.0 L407.6,371.0 L407.8,370.0 L408.0,369.0 L408.1,368.0 L408.3,367.0 L408.5,366.0 L408.6,365.0 L408.7,364.0 L408.9,363.0 L409.0,362.0 L409.1,361.0 L409.2,360.0 L409.3,359.0 L409.4,358.0 L409.5,357.0 L409.6,356.0 L409.7,355.0 L409.8,354.0 L409.8,353.0 L409.9,352.0 L410.0,351.0 L410.0,350.0 L410.1,349.0 L410.1,348.0 L410.1,347.0 L410.2,346.0 L410.2,345.0 L410.3,344.0 L410.3,343.0 L410.3,342.0 L410.3,341.0 L410.4,340.0 L410.4,339.0 L410.4,338.0 L410.4,337.0 L410.5,336.0 L410.5,335.0 L410.5,334.0 L410.5,333.0 L410.6,332.0 L410.6,331.0 L410.6,330.0 L410.6,329.0 L410.6,328.0 L410.7,327.0 L410.7,326.0 L410.7,325.0 L410.7,324.0 L410.7,323.0 L410.8,322.0 L410.8,321.0 L410.8,320.0 L410.8,319.0 L410.8,318.0 L410.8,317.0 L410.8,316.0 L410.8,315.0 L410.8,314.0 L410.8,313.0 L410.8,312.0 L410.8,311.0 L410.8,310.0 L410.8,309.0 L410.8,307.9 L410.7,306.9 L410.7,305.8 L410.7,304.8 L410.6,303.7 L410.6,302.7 L410.5,301.6 L410.5,300.6 L410.4,299.5 L410.4,298.5 L410.4,297.4 L410.3,296.4 L410.3,295.3 L410.2,294.3 L410.2,293.2 L410.2,292.2Z"/></clipPath>
<g clip-path="url(#wclip)"><rect x="200" y="280" width="250" height="210" fill="#722567"/>
<polyline points="213.3,129.3 243.8,134.4 306.1,322.6" fill="none" stroke="#e2c3e4" stroke-width="1.15" stroke-opacity="0.95" stroke-dasharray="1.6 0.7"/>
<polyline points="122.9,169.7 215.0,202.7 295.1,327.8" fill="none" stroke="#e2c3e4" stroke-width="1.15" stroke-opacity="0.95" stroke-dasharray="1.6 0.7"/>
<polyline points="208.7,253.5 287.4,334.0" fill="none" stroke="#e2c3e4" stroke-width="1.15" stroke-opacity="0.95" stroke-dasharray="1.6 0.7"/>
<polyline points="103.0,288.1 183.8,301.2 277.7,347.3" fill="none" stroke="#e2c3e4" stroke-width="1.15" stroke-opacity="0.95" stroke-dasharray="1.6 0.7"/>
<polyline points="210.2,363.3 272.8,366.4" fill="none" stroke="#e2c3e4" stroke-width="1.15" stroke-opacity="0.95" stroke-dasharray="1.6 0.7"/>
<polyline points="137.5,460.5 228.3,431.6 281.0,396.0" fill="none" stroke="#e2c3e4" stroke-width="1.15" stroke-opacity="0.95" stroke-dasharray="1.6 0.7"/>
<polyline points="258.7,475.4 296.7,410.8" fill="none" stroke="#e2c3e4" stroke-width="1.15" stroke-opacity="0.95" stroke-dasharray="1.6 0.7"/>
<polyline points="444.0,126.9 391.1,139.2 335.5,322.2" fill="none" stroke="#e2c3e4" stroke-width="1.15" stroke-opacity="0.95" stroke-dasharray="1.6 0.7"/>
<polyline points="555.4,131.2 519.1,187.2 423.6,216.4 348.5,328.4" fill="none" stroke="#e2c3e4" stroke-width="1.15" stroke-opacity="0.95" stroke-dasharray="1.6 0.7"/>
<polyline points="442.2,293.0 362.7,342.9" fill="none" stroke="#e2c3e4" stroke-width="1.15" stroke-opacity="0.95" stroke-dasharray="1.6 0.7"/>
<polyline points="390.3,455.5 351.7,406.9" fill="none" stroke="#e2c3e4" stroke-width="1.15" stroke-opacity="0.95" stroke-dasharray="1.6 0.7"/>
<polyline points="512.2,456.6 365.6,389.2" fill="none" stroke="#e2c3e4" stroke-width="1.15" stroke-opacity="0.95" stroke-dasharray="1.6 0.7"/>
<polyline points="550.6,620.1 363.9,603.4 330.4,416.9" fill="none" stroke="#e2c3e4" stroke-width="1.15" stroke-opacity="0.95" stroke-dasharray="1.6 0.7"/>
<polyline points="532.7,635.8 355.5,617.5 325.0,417.4" fill="none" stroke="#e2c3e4" stroke-width="1.15" stroke-opacity="0.95" stroke-dasharray="1.6 0.7"/>
</g>
<circle cx="321.4" cy="368.8" r="48.7" fill="#35333a" stroke="#dcc3de" stroke-width="1.3" stroke-dasharray="1.6 0.7"/>
<line x1="321.4" y1="368.9" x2="307.0" y2="349.6" stroke="#e9c9a0" stroke-width="1"/>
<line x1="321.4" y1="368.9" x2="342.9" y2="373.6" stroke="#e9c9a0" stroke-width="1"/>
<line x1="321.4" y1="368.9" x2="317.0" y2="391.1" stroke="#e9c9a0" stroke-width="1"/>
<circle cx="307.0" cy="349.6" r="5.4" fill="#d3222a" stroke="#f29590" stroke-width="1.4"/>
<circle cx="342.9" cy="373.6" r="5.4" fill="#d3222a" stroke="#f29590" stroke-width="1.4"/>
<circle cx="317.0" cy="391.1" r="5.4" fill="#d3222a" stroke="#f29590" stroke-width="1.4"/>
<circle cx="321.4" cy="368.9" r="11.6" fill="#f4e01f" stroke="#f8ef9a" stroke-width="1.1"/>
<text x="152.7" y="44.6" font-size="33" fill="#1b1a1e" font-weight="normal" textLength="335.9" lengthAdjust="spacingAndGlyphs" stroke="#1b1a1e" stroke-width="1.0">SULFITE LEVELS IN WINE</text>
<text x="142.3" y="41.1" font-size="23" fill="#1b1a1e" text-anchor="middle">•</text>
<text x="498.6" y="41.1" font-size="23" fill="#1b1a1e" text-anchor="middle">•</text>
<text x="24.8" y="95.1" font-size="20.4" fill="#f4f2f6" font-weight="normal" textLength="135.3" lengthAdjust="spacingAndGlyphs" stroke="#f4f2f6" stroke-width="0.5">EUROPEAN UNION</text>
<rect x="25.5" y="99.8" width="134.5" height="1.6" fill="#c6c4c9"/>
<text x="427.4" y="95.1" font-size="20.4" fill="#f4f2f6" font-weight="normal" textLength="117.4" lengthAdjust="spacingAndGlyphs" stroke="#f4f2f6" stroke-width="0.5">UNITED STATES</text>
<text x="549.5" y="95.1" font-size="14.2" fill="#f4f2f6" font-weight="normal" textLength="13.7" lengthAdjust="spacingAndGlyphs" stroke="#f4f2f6" stroke-width="0.55">OF</text>
<text x="568.5" y="95.1" font-size="14.2" fill="#f4f2f6" font-weight="normal" textLength="49.2" lengthAdjust="spacingAndGlyphs" stroke="#f4f2f6" stroke-width="0.55">AMERICA</text>
<rect x="428.1" y="99.8" width="189.4" height="1.6" fill="#c6c4c9"/>
<text x="447.9" y="412.8" font-size="20.4" fill="#f4f2f6" font-weight="normal" textLength="82.8" lengthAdjust="spacingAndGlyphs" stroke="#f4f2f6" stroke-width="0.5">AUSTRALIA</text>
<rect x="448.6" y="416.7" width="82" height="1.6" fill="#c6c4c9"/>
<text x="406.5" y="662.6" font-size="20.4" fill="#f4f2f6" font-weight="normal" textLength="93.2" lengthAdjust="spacingAndGlyphs" stroke="#f4f2f6" stroke-width="0.5">BIODYNAMIC</text>
<rect x="407.6" y="667.3" width="91.7" height="1.6" fill="#c6c4c9"/>
<text x="179.1" y="134.8" font-size="17.5" font-weight="bold" fill="#fbf5f5" textLength="29.4" lengthAdjust="spacingAndGlyphs">100</text>
<text x="82.2" y="167.2" font-size="17.5" font-weight="bold" fill="#fbf5f5" textLength="29.4" lengthAdjust="spacingAndGlyphs">150</text>
<text x="168.8" y="243.4" font-size="17.5" font-weight="bold" fill="#fbf5f5" textLength="29.4" lengthAdjust="spacingAndGlyphs">160</text>
<text x="47.8" y="293.8" font-size="17.5" font-weight="bold" fill="#fbf5f5" textLength="29.4" lengthAdjust="spacingAndGlyphs">210</text>
<text x="145.8" y="367.3" font-size="17.5" font-weight="bold" fill="#fbf5f5" textLength="29.4" lengthAdjust="spacingAndGlyphs">260</text>
<text x="66.5" y="476.7" font-size="17.5" font-weight="bold" fill="#fbf5f5" textLength="29.4" lengthAdjust="spacingAndGlyphs">300</text>
<text x="205.9" y="546.6" font-size="17.5" font-weight="bold" fill="#fbf5f5" textLength="29.4" lengthAdjust="spacingAndGlyphs">400</text>
<text x="561.0" y="135.7" font-size="17.5" font-weight="bold" fill="#fbf5f5" textLength="29.4" lengthAdjust="spacingAndGlyphs">100</text>
<text x="491.5" y="276.9" font-size="17.5" font-weight="bold" fill="#fbf5f5" textLength="29.4" lengthAdjust="spacingAndGlyphs">350</text>
<text x="417.3" y="501.3" font-size="17.5" font-weight="bold" fill="#fbf5f5" textLength="29.4" lengthAdjust="spacingAndGlyphs">300</text>
<text x="541.7" y="481.4" font-size="17.5" font-weight="bold" fill="#fbf5f5" textLength="29.4" lengthAdjust="spacingAndGlyphs">250</text>
<text x="568.1" y="626.5" font-size="17.5" font-weight="bold" fill="#fbf5f5" textLength="29.4" lengthAdjust="spacingAndGlyphs">150</text>
<text x="518.0" y="661.6" font-size="17.5" font-weight="bold" fill="#fbf5f5" textLength="29.4" lengthAdjust="spacingAndGlyphs">100</text>
<text x="452.6" y="133.2" font-size="17.5" font-weight="bold" fill="#fbf5f5" textLength="18.6" lengthAdjust="spacingAndGlyphs">10</text>
<text x="152.9" y="163.5" font-size="15" fill="#efedf1" font-weight="normal" textLength="85.1" lengthAdjust="spacingAndGlyphs" stroke="#efedf1" stroke-width="0.4">Organic Dry Red</text>
<text x="66.0" y="208.5" font-size="15" fill="#efedf1" font-weight="normal" textLength="61.9" lengthAdjust="spacingAndGlyphs" stroke="#efedf1" stroke-width="0.4">Organic Dry</text>
<text x="59.3" y="224.6" font-size="15" fill="#efedf1" font-weight="normal" textLength="75.3" lengthAdjust="spacingAndGlyphs" stroke="#efedf1" stroke-width="0.4">White or Rosé</text>
<text x="163.2" y="284.6" font-size="15" fill="#efedf1" font-weight="normal" textLength="40.8" lengthAdjust="spacingAndGlyphs" stroke="#efedf1" stroke-width="0.4">Dry Red</text>
<text x="35.7" y="347.6" font-size="15" fill="#efedf1" font-weight="normal" textLength="54.7" lengthAdjust="spacingAndGlyphs" stroke="#efedf1" stroke-width="0.4">Dry White</text>
<text x="41.7" y="364.1" font-size="15" fill="#efedf1" font-weight="normal" textLength="41.9" lengthAdjust="spacingAndGlyphs" stroke="#efedf1" stroke-width="0.4">or Rosé</text>
<text x="142.9" y="430.1" font-size="15" fill="#efedf1" font-weight="normal" textLength="34.1" lengthAdjust="spacingAndGlyphs" stroke="#efedf1" stroke-width="0.4">Sweet</text>
<text x="41.8" y="548.9" font-size="15" fill="#efedf1" font-weight="normal" textLength="78.6" lengthAdjust="spacingAndGlyphs" stroke="#efedf1" stroke-width="0.4">Organic Sweet</text>
<text x="190.8" y="637.4" font-size="15" fill="#efedf1" font-weight="normal" textLength="59.6" lengthAdjust="spacingAndGlyphs" stroke="#efedf1" stroke-width="0.4">Very Sweet</text>
<text x="441.7" y="149.3" font-size="15" fill="#efedf1" font-weight="normal" textLength="41.2" lengthAdjust="spacingAndGlyphs" stroke="#efedf1" stroke-width="0.4">Organic</text>
<text x="409.8" y="167.3" font-size="15" fill="#efedf1" font-weight="normal" textLength="106.1" lengthAdjust="spacingAndGlyphs" stroke="#efedf1" stroke-width="0.4">(naturally occurring</text>
<text x="426.7" y="184.1" font-size="15" fill="#efedf1" font-weight="normal" textLength="71.9" lengthAdjust="spacingAndGlyphs" stroke="#efedf1" stroke-width="0.4">sulfites only)</text>
<text x="548.2" y="166.1" font-size="15" fill="#efedf1" font-weight="normal" textLength="55.8" lengthAdjust="spacingAndGlyphs" stroke="#efedf1" stroke-width="0.4">Made from</text>
<text x="548.2" y="183.4" font-size="15" fill="#efedf1" font-weight="normal" textLength="59.6" lengthAdjust="spacingAndGlyphs" stroke="#efedf1" stroke-width="0.4">Organically</text>
<text x="539.9" y="200.4" font-size="15" fill="#efedf1" font-weight="normal" textLength="77.4" lengthAdjust="spacingAndGlyphs" stroke="#efedf1" stroke-width="0.4">Grown Grapes</text>
<text x="482.5" y="357.8" font-size="15" fill="#efedf1" font-weight="normal" textLength="46.5" lengthAdjust="spacingAndGlyphs" stroke="#efedf1" stroke-width="0.4">All Other</text>
<text x="400.0" y="569.8" font-size="15" fill="#efedf1" font-weight="normal" textLength="61.0" lengthAdjust="spacingAndGlyphs" stroke="#efedf1" stroke-width="0.4">Very Sweet</text>
<text x="533.0" y="542.3" font-size="15" fill="#efedf1" font-weight="normal" textLength="45.3" lengthAdjust="spacingAndGlyphs" stroke="#efedf1" stroke-width="0.4">All Other</text>
<text x="566.3" y="665.4" font-size="15" fill="#efedf1" font-weight="normal" textLength="34.5" lengthAdjust="spacingAndGlyphs" stroke="#efedf1" stroke-width="0.4">Sweet</text>
<text x="508.4" y="690.8" font-size="15" fill="#efedf1" font-weight="normal" textLength="46.0" lengthAdjust="spacingAndGlyphs" stroke="#efedf1" stroke-width="0.4">All Other</text>
<text x="34.3" y="667.0" font-size="12.5" fill="#ebe9ee" font-weight="normal" textLength="155.1" lengthAdjust="spacingAndGlyphs" stroke="#ebe9ee" stroke-width="0.3">Measurements in mg/L or less.</text>
<text x="39.3" y="682.0" font-size="12.5" fill="#ebe9ee" font-weight="normal" textLength="145.1" lengthAdjust="spacingAndGlyphs" stroke="#ebe9ee" stroke-width="0.3">1 mg/L roughly equals 1 ppm.</text>
<line x1="31" y1="653.0" x2="191" y2="653.0" stroke="#d8d6db" stroke-width="1" stroke-dasharray="1 1.2"/>
<line x1="31" y1="689.5" x2="191" y2="689.5" stroke="#d8d6db" stroke-width="1" stroke-dasharray="1 1.2"/>
</svg>
</body></html>
